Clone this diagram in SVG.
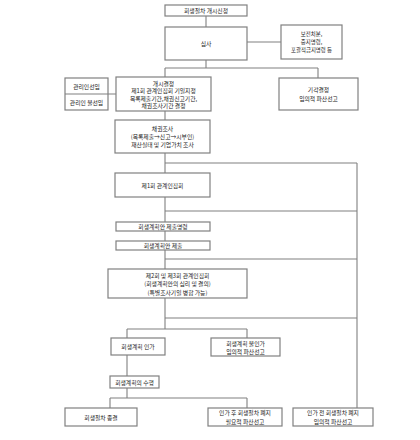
<svg xmlns="http://www.w3.org/2000/svg" width="420" height="440" viewBox="0 0 420 440">
<style>
.b{fill:#fff;stroke:#808080;stroke-width:1.2}
.c{fill:none;stroke:#808080;stroke-width:1.1}
text{font-family:"Noto Sans CJK KR","Noto Sans",sans-serif;font-size:5.8px;fill:#222;text-anchor:middle;dominant-baseline:central}
.s{font-size:5.4px}
</style>
<rect width="420" height="440" fill="#fff"/>
<g id="connectors">
<path class="c" d="M206,16V27M247,42H281M206,60V68M165,68H318M165,68V77M318,68V78M108,94H116M165,111V120M165,153V173M165,163H357M165,197V222M165,211H357M165,231V241M165,250V269M165,259H357M165,298V329M165,318H357M127,329H247M127,329V338M247,329V338M357,163V408M127,355V376M127,388V398M110,398H247M110,398V408M247,398V408"/>
</g>
<g id="n1"><rect class="b" x="165" y="5" width="82" height="11"/><text x="206" y="10.5">회생절차 개시신청</text></g>
<g id="n2"><rect class="b" x="165" y="27" width="82" height="33"/><text x="206" y="43.5">심사</text></g>
<g id="n3"><rect class="b" x="281" y="25" width="61" height="34"/><text class="s" x="311.5" y="34">보전처분,</text><text class="s" x="311.5" y="42">중지명령,</text><text class="s" x="311.5" y="50">포괄적금지명령 등</text></g>
<g id="n4"><rect class="b" x="65" y="78" width="43" height="32"/><line class="c" x1="65" y1="94" x2="108" y2="94"/><text x="86.5" y="86">관리인선임</text><text x="86.5" y="102">관리인 불선임</text></g>
<g id="n5"><rect class="b" x="116" y="77" width="95" height="34"/><text x="163.5" y="83">개시결정</text><text x="163.5" y="90.5">제1회 관계인집회 기일지정</text><text x="163.5" y="98">목록제출기간,채권신고기간,</text><text x="163.5" y="105.5">채권조사기간 결정</text></g>
<g id="n6"><rect class="b" x="279" y="78" width="79" height="32"/><text x="318.5" y="89">기각결정</text><text x="318.5" y="98">임의적 파산선고</text></g>
<g id="n7"><rect class="b" x="115" y="120" width="95" height="33"/><text x="162.5" y="128">채권조사</text><text x="162.5" y="136">(목록제출→신고→시부인)</text><text x="162.5" y="144">재산실태 및 기업가치 조사</text></g>
<g id="n8"><rect class="b" x="115" y="173" width="95" height="24"/><text x="162.5" y="185">제1회 관계인집회</text></g>
<g id="n9"><rect class="b" x="116" y="222" width="94" height="9"/><text x="163" y="226.5">회생계획안 제출명령</text></g>
<g id="n10"><rect class="b" x="116" y="241" width="94" height="9"/><text x="163" y="245.5">회생계획안 제출</text></g>
<g id="n11"><rect class="b" x="108" y="269" width="139" height="29"/><text x="177.5" y="275">제2회 및 제3회 관계인집회</text><text x="177.5" y="283.5">(회생계획안의 심리 및 결의)</text><text x="177.5" y="292">(특별조사기일 병합 가능)</text></g>
<g id="n12"><rect class="b" x="111" y="338" width="54" height="17"/><text x="138" y="346.5">회생계획 인가</text></g>
<g id="n13"><rect class="b" x="211" y="338" width="69" height="18"/><text x="245.5" y="343">회생계획 불인가</text><text x="245.5" y="351">임의적 파산선고</text></g>
<g id="n14"><rect class="b" x="110" y="376" width="49" height="12"/><text x="134.5" y="382">회생계획의 수행</text></g>
<g id="n15"><rect class="b" x="65" y="408" width="72" height="18"/><text x="101" y="417">회생절차 종결</text></g>
<g id="n16"><rect class="b" x="208" y="408" width="74" height="18"/><text x="245" y="412.5">인가 후 회생절차 폐지</text><text x="245" y="421">필요적 파산선고</text></g>
<g id="n17"><rect class="b" x="293" y="408" width="80" height="18"/><text x="333" y="412.5">인가 전 회생절차 폐지</text><text x="333" y="421">임의적 파산선고</text></g>
</svg>
